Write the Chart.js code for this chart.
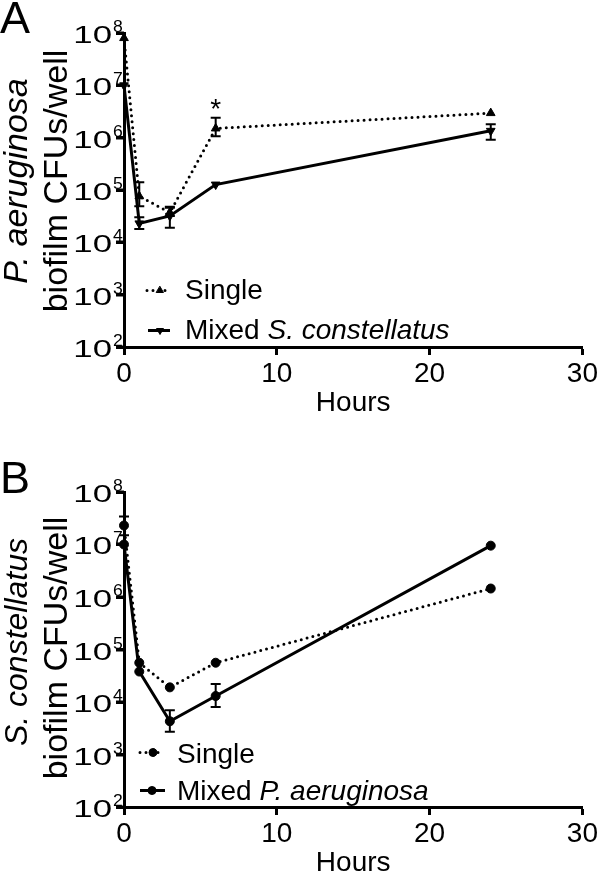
<!DOCTYPE html>
<html><head><meta charset="utf-8">
<script src="https://cdn.jsdelivr.net/npm/chart.js@4.4.1/dist/chart.umd.min.js"></script>
<style>
html,body{margin:0;padding:0;background:#fff;}
#wrap{position:relative;width:600px;height:874px;background:#fff;}
.cw{position:absolute;left:0;width:600px;height:437px;}
</style></head><body>
<div id="wrap">
<div class="cw" style="top:0"><canvas id="cA" width="600" height="437"></canvas></div>
<div class="cw" style="top:437px"><canvas id="cB" width="600" height="437"></canvas></div>
</div>
<script>
// ---------- data ----------
const hours = [0, 1, 3, 6, 24];
const xTicks = [0, 10, 20, 30];
const yTickValues = [1e2, 1e3, 1e4, 1e5, 1e6, 1e7, 1e8];
const yTickBase = '10';
const yTickExponents = ['2', '3', '4', '5', '6', '7', '8'];

// Panel A: P. aeruginosa
const paSingle     = [8.0e7, 7.6e4, 3.7e4, 1.5e6, 2.95e6];
const paSingleLow  = [null, 4.9e4, 3.2e4, 1.06e6, null];
const paSingleHigh = [null, 1.4e5, 4.6e4, 2.4e6, null];
const paMixed      = [1.0e7, 2.3e4, 3.2e4, 1.27e5, 1.35e6];
const paMixedLow   = [null, 1.8e4, 1.9e4, null, 9.1e5];
const paMixedHigh  = [null, 3.0e4, 4.8e4, null, 1.8e6];
const paAnnotations = [{x: 6, y: 4.7e6, text: '*'}];

// Panel B: S. constellatus
const scSingle     = [2.3e7, 5.6e4, 1.9e4, 5.6e4, 1.45e6];
const scSingleLow  = [1.5e7, null, null, null, null];
const scSingleHigh = [3.4e7, null, null, null, null];
const scMixed      = [1.0e7, 3.8e4, 4.3e3, 1.3e4, 9.5e6];
const scMixedLow   = [null, null, 2.7e3, 8.0e3, null];
const scMixedHigh  = [null, null, 7.0e3, 2.2e4, null];

const panelLetters = ['A', 'B'];
const yTitleSpecies = ['P. aeruginosa', 'S. constellatus'];
const yTitleRest = 'biofilm CFUs/well';
const xTitle = 'Hours';
const legendNames = ['Single', 'Mixed'];
const legendSpeciesA = ['', 'S. constellatus'];
const legendSpeciesB = ['', 'P. aeruginosa'];

// ---------- rendering ----------
const FONT = '"Liberation Sans", Arial, Helvetica, sans-serif';

function pts(vals){ return hours.map((h,i)=>({x:h, y:vals[i]})); }

function makeChart(id, cfg){
  const singleStyle = {
    borderColor:'#000', borderWidth:3, borderDash:[0,6], borderCapStyle:'round',
    pointStyle: cfg.marker, pointRotation:0, pointRadius: cfg.marker==='circle'?4.5:5,
    pointBackgroundColor:'#000', pointBorderColor:'#000', pointBorderWidth:1,
    tension:0, fill:false, clip:false
  };
  const mixedStyle = {
    borderColor:'#000', borderWidth:3, borderCapStyle:'butt',
    pointStyle: cfg.marker, pointRotation: cfg.marker==='triangle'?180:0, pointRadius: cfg.marker==='circle'?4.5:5,
    pointBackgroundColor:'#000', pointBorderColor:'#000', pointBorderWidth:1,
    tension:0, fill:false, clip:false
  };
  const decor = {
    id:'decor'+id,
    afterDatasetsDraw(chart){
      const ctx = chart.ctx, xs = chart.scales.x, ys = chart.scales.y;
      // error bars
      ctx.save();
      ctx.strokeStyle = '#000'; ctx.lineWidth = 2; ctx.setLineDash([]); ctx.lineCap='butt';
      cfg.errors.forEach(e=>{
        hours.forEach((h,i)=>{
          if (e.low[i]==null || e.high[i]==null) return;
          const px = xs.getPixelForValue(h);
          const yl = ys.getPixelForValue(e.low[i]);
          const yh = ys.getPixelForValue(e.high[i]);
          ctx.beginPath();
          ctx.moveTo(px, yl); ctx.lineTo(px, yh);
          ctx.moveTo(px-5, yl); ctx.lineTo(px+5, yl);
          ctx.moveTo(px-5, yh); ctx.lineTo(px+5, yh);
          ctx.stroke();
        });
      });
      ctx.restore();
    },
    afterDraw(chart){
      const ctx = chart.ctx, xs = chart.scales.x, ys = chart.scales.y, ca = chart.chartArea;
      ctx.save();
      ctx.fillStyle = '#000';
      // y tick marks and labels: 10 with superscript exponent
      yTickValues.forEach((v,i)=>{
        const py = Math.round(ys.getPixelForValue(v));
        ctx.save();
        ctx.strokeStyle = '#000'; ctx.lineWidth = 3; ctx.lineCap = 'butt';
        ctx.beginPath(); ctx.moveTo(ca.left - 8, py); ctx.lineTo(ca.left, py); ctx.stroke();
        ctx.restore();
        ctx.save();
        ctx.font = '24px ' + FONT; ctx.textAlign='right'; ctx.textBaseline='alphabetic';
        ctx.translate(112, py + 10); ctx.scale(1.45, 1);
        ctx.fillText(yTickBase, 0, 0);
        ctx.restore();
        ctx.save();
        ctx.font = '16px ' + FONT; ctx.textAlign='left'; ctx.textBaseline='alphabetic';
        ctx.translate(113, py - 1.5); ctx.scale(1.1, 1);
        ctx.fillText(yTickExponents[i], 0, 0);
        ctx.restore();
      });
      // y title
      ctx.save();
      ctx.translate(27, cfg.titleY1); ctx.rotate(-Math.PI/2);
      ctx.textAlign='center'; ctx.textBaseline='alphabetic';
      ctx.font = 'italic ' + cfg.speciesSize + 'px ' + FONT;
      ctx.fillText(cfg.species, 0, 0);
      ctx.restore();
      ctx.save();
      ctx.translate(67, cfg.titleY2); ctx.rotate(-Math.PI/2);
      ctx.textAlign='center'; ctx.textBaseline='alphabetic';
      ctx.font = '34px ' + FONT;
      ctx.fillText(yTitleRest, 0, 0);
      ctx.restore();
      // x title
      ctx.font = '28px ' + FONT; ctx.textAlign='center'; ctx.textBaseline='alphabetic';
      ctx.fillText(xTitle, (ca.left+ca.right)/2, ca.bottom + 64);
      // panel letter
      ctx.font = '45px ' + FONT; ctx.textAlign='left';
      ctx.fillText(cfg.letter, 0, cfg.letterY);
      // annotations
      (cfg.annotations||[]).forEach(a=>{
        ctx.font = '28px ' + FONT; ctx.textAlign='center';
        ctx.fillText(a.text, xs.getPixelForValue(a.x), ys.getPixelForValue(a.y) + 16);
      });
      // legend
      cfg.legend.forEach((L,k)=>{
        ctx.save();
        ctx.strokeStyle='#000'; ctx.lineWidth=3;
        if (k===0){ ctx.setLineDash([0,6]); ctx.lineCap='round'; } else { ctx.setLineDash([]); ctx.lineCap='butt'; }
        ctx.beginPath(); ctx.moveTo(L.x1, L.ly); ctx.lineTo(L.x2, L.ly); ctx.stroke();
        ctx.setLineDash([]);
        ctx.fillStyle='#000'; ctx.lineWidth=1;
        Chart.helpers.drawPoint(ctx, {pointStyle: cfg.marker, rotation: (k===1 && cfg.marker==='triangle')?180:0, radius: 4, borderWidth:1}, L.mx, L.ly);
        ctx.restore();
        ctx.font = '28px ' + FONT; ctx.textAlign='left'; ctx.textBaseline='alphabetic';
        let tx = L.tx;
        const name = legendNames[k] + (cfg.legendSpecies[k] ? ' ' : '');
        ctx.fillText(name, tx, L.ty);
        tx += ctx.measureText(name).width;
        if (cfg.legendSpecies[k]){
          ctx.font = 'italic 28px ' + FONT;
          ctx.fillText(cfg.legendSpecies[k], tx, L.ty);
        }
      });
      ctx.restore();
    }
  };
  const axisCommon = {
    grid:{display:true, drawOnChartArea:false, drawTicks:true, tickLength:8, tickColor:'#000', tickWidth:3},
    border:{display:true, color:'#000', width:3}
  };
  return new Chart(document.getElementById(id), {
    type:'line',
    data:{ datasets:[
      Object.assign({label:'Single', data: pts(cfg.single)}, singleStyle),
      Object.assign({label:'Mixed', data: pts(cfg.mixed)}, mixedStyle)
    ]},
    options:{
      responsive:false, animation:false, devicePixelRatio:1,
      layout:{padding:{left:0, top:cfg.top, right:16, bottom:0}},
      plugins:{legend:{display:false}, tooltip:{enabled:false}},
      scales:{
        x: Object.assign({
          type:'linear', min:0, max:30,
          ticks:{stepSize:10, color:'#000', font:{family:FONT, size:28}, padding:2, maxRotation:0},
          afterBuildTicks(s){ s.ticks = xTicks.map(v=>({value:v})); },
          afterFit(s){ s.height = cfg.xh; }
        }, axisCommon),
        y: Object.assign({
          type:'logarithmic', min:1e2, max:1e8,
          ticks:{display:false},
          afterBuildTicks(s){ s.ticks = yTickValues.map(v=>({value:v})); },
          afterFit(s){ s.width = 124; }
        }, axisCommon)
      }
    },
    plugins:[decor]
  });
}

makeChart('cA', {
  single: paSingle, mixed: paMixed, marker:'triangle',
  errors:[{low:paSingleLow, high:paSingleHigh},{low:paMixedLow, high:paMixedHigh}],
  annotations: paAnnotations,
  top:33, xh:90, letter: panelLetters[0], letterY:33,
  species: yTitleSpecies[0], speciesSize:34, titleY1:181, titleY2:181,
  legendSpecies: legendSpeciesA,
  legend:[
    {x1:147, x2:168, mx:160, ly:290.5, tx:185, ty:299},
    {x1:148, x2:170, mx:160, ly:330.5, tx:185, ty:339}
  ]
});
makeChart('cB', {
  single: scSingle, mixed: scMixed, marker:'circle',
  errors:[{low:scSingleLow, high:scSingleHigh},{low:scMixedLow, high:scMixedHigh}],
  top:55, xh:67, letter: panelLetters[1], letterY:56,
  species: yTitleSpecies[1], speciesSize:32, titleY1:205, titleY2:211,
  legendSpecies: legendSpeciesB,
  legend:[
    {x1:140, x2:164, mx:153, ly:315.5, tx:177, ty:325.5},
    {x1:140, x2:165, mx:152, ly:353.5, tx:177, ty:363}
  ]
});
</script>
</body></html>
